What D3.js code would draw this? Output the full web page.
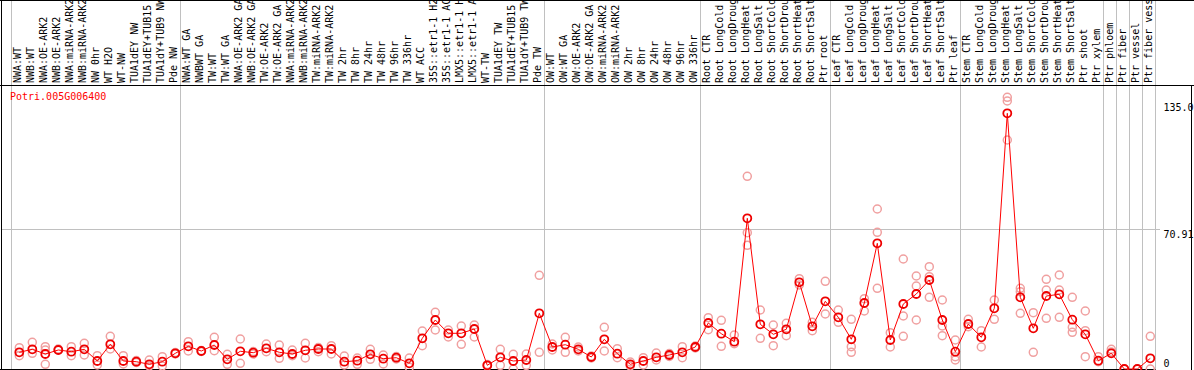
<!DOCTYPE html>
<html>
<head>
<meta charset="utf-8">
<script src="https://cdn.jsdelivr.net/npm/d3@7"></script>
<style>
  html, body { margin: 0; padding: 0; background: #fff; }
  svg { display: block; }
  text { font-family: "DejaVu Sans Mono", monospace; font-size: 10px; }
</style>
</head>
<body>
<svg id="chart" width="1194" height="370"></svg>
<script>
const geneName = "Potri.005G006400";

const categories = [
  "NWA:WT","NWB:WT","NWA:OE-ARK2","NWB:OE-ARK2","NWA:miRNA-ARK2","NWB:miRNA-ARK2","NW 0hr","WT H2O","WT-NW","TUA1dEY NW","TUA1dEY+TUB15 NW","TUA1dY+TUB9 NW","Pde NW",
  "NWA:WT GA","NWBWT GA","TW:WT","TW:WT GA","NWA:OE-ARK2 GA","NWB:OE-ARK2 GA","TW:OE-ARK2","TW:OE-ARK2 GA","NWA:miRNA-ARK2 GA","NWB:miRNA-ARK2 GA","TW:miRNA-ARK2","TW:miRNA-ARK2 GA",
  "TW 2hr","TW 8hr","TW 24hr","TW 48hr","TW 96hr","TW 336hr","WT ACC","35S::etr1-1 H2O","35S::etr1-1 ACC","LMX5::etr1-1 H2O","LMX5::etr1-1 ACC","WT-TW","TUA1dEY TW","TUA1dEY+TUB15 TW","TUA1dY+TUB9 TW","Pde TW",
  "OW:WT","OW:WT GA","OW:OE-ARK2","OW:OE-ARK2 GA","OW:miRNA-ARK2","OW:miRNA-ARK2 GA","OW 2hr","OW 8hr","OW 24hr","OW 48hr","OW 96hr","OW 336hr",
  "Root CTR","Root LongCold","Root LongDrought","Root LongHeat","Root LongSalt","Root ShortCold","Root ShortDrought","Root ShortHeat","Root ShortSalt","Ptr root",
  "Leaf CTR","Leaf LongCold","Leaf LongDrought","Leaf LongHeat","Leaf LongSalt","Leaf ShortCold","Leaf ShortDrought","Leaf ShortHeat","Leaf ShortSalt","Ptr leaf",
  "Stem CTR","Stem LongCold","Stem LongDrought","Stem LongHeat","Stem LongSalt","Stem ShortCold","Stem ShortDrought","Stem ShortHeat","Stem ShortSalt","Ptr shoot","Ptr xylem",
  "Ptr phloem","Ptr fiber","Ptr vessel","Ptr fiber vessel"
];

// index of first category of each group (separator lines)
const groupStarts = [0, 13, 41, 53, 63, 73, 84, 85, 86, 87];

const means = [
  8.43, 9.94, 7.57, 9.59, 8.73, 9.94, 4.04, 12.47, 4.04, 3.68, 2.37, 3.68, 7.92,
  11.46, 9.08, 12.11, 4.90, 8.93, 8.23, 10.45, 8.43, 7.57, 9.44, 10.09, 10.09,
  3.68, 4.19, 7.42, 5.20, 5.70, 2.88, 15.49, 24.73, 18.02, 18.02, 20.19, 1.87, 5.90, 4.04, 4.54, 28.11,
  11.10, 12.26, 9.94, 6.06, 14.99, 7.72, 2.37, 4.04, 5.90, 7.07, 8.43, 11.10,
  23.22, 17.82, 13.78, 76.06, 22.56, 17.51, 20.04, 43.76, 21.55, 34.17,
  26.09, 14.99, 33.31, 63.44, 14.64, 32.81, 37.85, 44.92, 24.73, 8.73,
  22.71, 16.00, 30.63, 129.05, 36.19, 20.54, 36.84, 37.70, 24.88, 17.51, 4.19,
  7.92, 0, 0, 5.40
];

const replicates = [
  [10.75, 6.71], [13.48, 7.92], [11.25, 9.59, 2.37], [9.59, 10.09], [11.25, 6.71], [12.97, 7.07], [6.71, 2.02], [16.50, 10.09], [6.71, 2.52], [4.29, 3.28], [4.54, 1.51], [6.21, 1.51], [8.33, 7.57],
  [13.78, 9.08], [9.34, 8.83], [16.00, 9.24], [7.42, 2.37], [15.14, 2.88], [8.83, 7.57], [12.62, 8.73], [12.11, 5.40], [9.59, 6.71], [12.97, 5.55], [10.85, 8.73], [11.76, 7.57],
  [6.56, 2.02], [5.55, 2.37], [9.94, 4.90], [7.07, 2.52], [6.31, 5.05], [5.55, 0.86], [19.18, 11.76], [28.62, 19.68], [19.68, 16.15], [21.70, 12.47], [22.21, 16.15], [2.27, 1.51], [9.94, 1.87], [7.42, 0], [7.57, 1.87], [47.29, 8.43],
  [12.62, 9.59], [16.00, 8.43], [11.10, 9.08], [6.56, 5.55], [21.05, 9.08], [10.25, 5.70], [3.53, 1.51], [5.70, 2.02], [8.08, 4.54], [7.82, 6.31], [11.25, 5.70], [11.61, 10.60],
  [25.89, 19.83], [24.58, 11.46], [17.16, 12.77], [97.26, 68.79, 62.43], [29.78, 15.49], [22.21, 11.76], [23.06, 16.81], [45.57, 42.39], [23.57, 19.33], [44.26, 27.76],
  [29.78, 23.57], [25.08, 11.25, 8.43], [35.48, 29.27], [80.75, 68.99, 40.73], [18.32, 11.10], [55.52, 26.75, 16.50], [46.94, 41.89, 24.73], [51.63, 46.58, 36.19], [34.82, 21.70, 16.81], [14.64, 6.21, 4.54],
  [25.08, 21.35], [19.33, 11.10], [34.82, 25.08], [137.13, 135.26, 115.58], [40.73, 39.01, 28.11], [28.41, 8.43], [45.27, 39.87, 25.59], [47.44, 39.87, 26.09], [36.19, 21.05, 18.52], [29.27, 19.33, 6.21], [6.21, 3.68],
  [9.94, 8.58], [0, 0], [0], [16.50, 0]
];

const yTickValues = [0, 70.91, 135.0];
const yTickLabels = ["0", "70.91", "135.0"];
const yMax = 141.82;

const svg = d3.select("#chart");
const W = 1194, H = 370;

const x = d3.scalePoint().domain(d3.range(categories.length)).range([19.3, 1150.3]);
const y = d3.scaleLinear().domain([0, yMax]).range([369, 88]);

const crisp = v => Math.round(v) + 0.5;

// vertical group separators (full height)
const sepX = groupStarts.map(i => crisp(x(i) - 8)).concat([crisp(x(categories.length - 1) + 5)]);
svg.append("g").selectAll("line").data(sepX).join("line")
  .attr("x1", d => d).attr("x2", d => d)
  .attr("y1", 0).attr("y2", H)
  .attr("stroke", "#c0c0c0").attr("stroke-width", 1);

// horizontal mid grid line
svg.append("line")
  .attr("x1", 1).attr("x2", 1160)
  .attr("y1", crisp(y(70.91))).attr("y2", crisp(y(70.91)))
  .attr("stroke", "#c0c0c0").attr("stroke-width", 1);

// frame lines
const frame = svg.append("g").attr("stroke", "#000").attr("stroke-width", 1);
frame.append("line").attr("x1", 0).attr("x2", W).attr("y1", 0.5).attr("y2", 0.5);
frame.append("line").attr("x1", 0).attr("x2", W).attr("y1", 85.5).attr("y2", 85.5);
frame.append("line").attr("x1", 1.5).attr("x2", 1.5).attr("y1", 0).attr("y2", H);
frame.append("line").attr("x1", 0).attr("x2", crisp(x(categories.length - 1) + 5)).attr("y1", 369.5).attr("y2", 369.5);
frame.append("line").attr("x1", 1191.5).attr("x2", 1191.5).attr("y1", 85).attr("y2", H);

// header labels (rotated)
svg.append("g").selectAll("text").data(categories).join("text")
  .attr("transform", (d, i) => `translate(${x(i) + 2},83) rotate(-90)`)
  .attr("text-anchor", "start")
  .attr("fill", "#000")
  .text(d => d);

// replicate points
const repPts = [];
replicates.forEach((arr, i) => arr.forEach(v => repPts.push({ i, v })));
svg.append("g").selectAll("circle").data(repPts).join("circle")
  .attr("cx", d => x(d.i)).attr("cy", d => y(d.v)).attr("r", 4)
  .attr("fill", "none").attr("stroke", "#f0a0a0").attr("stroke-width", 1.5);

// mean line
svg.append("path")
  .datum(means)
  .attr("fill", "none").attr("stroke", "#ff0000").attr("stroke-width", 1)
  .attr("d", d3.line().x((d, i) => x(i)).y(d => y(d)));

// mean points
svg.append("g").selectAll("circle").data(means).join("circle")
  .attr("cx", (d, i) => x(i)).attr("cy", d => y(d)).attr("r", 4)
  .attr("fill", "none").attr("stroke", "#ee0000").attr("stroke-width", 1.8);

// gene name
svg.append("text").attr("x", 10).attr("y", 100).attr("fill", "#ff0000").text(geneName);

// right-side value axis
const axis = d3.axisRight(y).tickValues(yTickValues)
  .tickFormat((d, i) => yTickLabels[i]).tickSize(0).tickPadding(8);
const ag = svg.append("g").attr("transform", `translate(${crisp(x(categories.length - 1) + 5)},0)`).call(axis);
ag.select(".domain").remove();
ag.selectAll("text")
  .attr("font-family", "DejaVu Sans Mono, monospace").attr("font-size", 10)
  .attr("fill", "#000")
  .attr("dy", d => d === 0 ? "-3px" : "9px");
</script>
</body>
</html>
